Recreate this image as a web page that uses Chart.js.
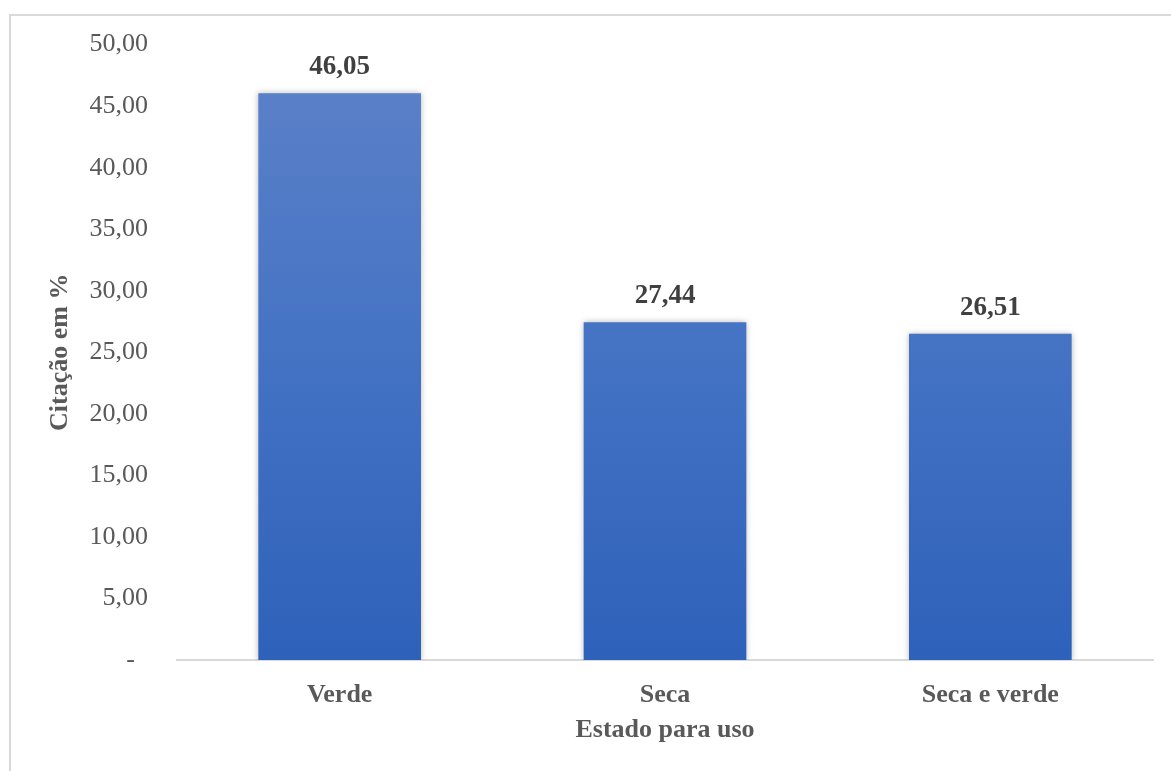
<!DOCTYPE html>
<html>
<head>
<meta charset="utf-8">
<script src="https://cdn.jsdelivr.net/npm/chart.js@4/dist/chart.umd.min.js"></script>
<style>
  html, body { margin: 0; padding: 0; background: #ffffff; }
  #wrap { position: relative; width: 1171px; height: 771px; overflow: hidden; }
  #frame { position: absolute; left: 9px; top: 14px; width: 1300px; height: 900px;
           border-left: 2px solid #d9d9d9; border-top: 2px solid #d9d9d9; box-sizing: border-box; }
  #chart { position: absolute; left: 0; top: 0; }
</style>
</head>
<body>
<div id="wrap">
  <div id="frame"></div>
  <canvas id="chart" width="1171" height="771"></canvas>
</div>
<script>
// Estado para uso das plantas (citação em %)
const categories = ['Verde', 'Seca', 'Seca e verde'];
const citacao = [46.05, 27.44, 26.51];
const yTicks = [0, 5, 10, 15, 20, 25, 30, 35, 40, 45, 50];

const SERIF = '"Liberation Serif", "Times New Roman", serif';
const fmt = v => v.toFixed(2).replace('.', ',');

// vertical blue gradient for the bars
function barGradient(ctx) {
  const area = ctx.chart.chartArea;
  if (!area) return '#3e6cc2';
  const el = ctx.element;
  const top = el && el.y !== undefined ? el.y : area.top;
  const bottom = area.bottom;
  const g = ctx.chart.ctx.createLinearGradient(0, top, 0, bottom);
  g.addColorStop(0, '#5e82c9');
  g.addColorStop(0.5, '#4473c4');
  g.addColorStop(1, '#2e61ba');
  return g;
}

// soft shadow behind the bars
const barShadow = {
  id: 'barShadow',
  beforeDatasetsDraw(chart) {
    const c = chart.ctx;
    c.save();
    c.shadowColor = 'rgba(0,0,0,0.28)';
    c.shadowBlur = 6;
    c.shadowOffsetX = 0;
    c.shadowOffsetY = 0;
  },
  afterDatasetsDraw(chart) {
    chart.ctx.restore();
  }
};

// value labels above each bar
const valueLabels = {
  id: 'valueLabels',
  afterDatasetsDraw(chart) {
    const c = chart.ctx;
    const meta = chart.getDatasetMeta(0);
    c.save();
    c.font = 'bold 27px ' + SERIF;
    c.fillStyle = '#404040';
    c.textAlign = 'center';
    c.textBaseline = 'middle';
    meta.data.forEach((bar, i) => {
      c.fillText(fmt(chart.data.datasets[0].data[i]), bar.x, bar.y - 26);
    });
    c.restore();
  }
};

new Chart(document.getElementById('chart'), {
  type: 'bar',
  data: {
    labels: categories,
    datasets: [{
      data: citacao,
      backgroundColor: barGradient,
      borderWidth: 0,
      barPercentage: 1.0,
      categoryPercentage: 0.5
    }]
  },
  options: {
    responsive: false,
    animation: false,
    events: [],
    layout: { padding: { left: 0, right: 18, top: 44, bottom: 0 } },
    plugins: {
      legend: { display: false },
      tooltip: { enabled: false }
    },
    scales: {
      x: {
        grid: { display: false, drawTicks: false },
        border: { display: true, color: '#d9d9d9', width: 2 },
        ticks: {
          color: '#595959',
          font: { family: SERIF, size: 26, weight: 'bold' },
          padding: 20
        },
        title: {
          display: true,
          text: 'Estado para uso',
          color: '#595959',
          font: { family: SERIF, size: 26, weight: 'bold' },
          padding: { top: 0, bottom: 25 }
        },
        afterFit(scale) { scale.height = 111; }
      },
      y: {
        min: 0,
        max: 50,
        afterBuildTicks(scale) { scale.ticks = yTicks.map(v => ({ value: v })); },
        grid: { display: false, drawTicks: false },
        border: { display: false },
        ticks: {
          color: '#595959',
          font: { family: SERIF, size: 26 },
          padding: 29,
          callback: v => (v === 0 ? '-  ' : fmt(v))
        },
        title: {
          display: true,
          text: 'Citação em %',
          color: '#595959',
          font: { family: SERIF, size: 26, weight: 'bold' },
          padding: { top: 45, bottom: 0 }
        },
        afterFit(scale) { scale.width = 177; }
      }
    }
  },
  plugins: [barShadow, valueLabels]
});
</script>
</body>
</html>
